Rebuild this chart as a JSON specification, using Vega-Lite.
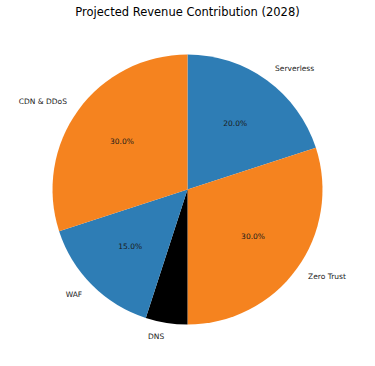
{
  "$schema": "https://vega.github.io/schema/vega-lite/v6.json",
  "width": 375,
  "height": 366,
  "autosize": {"type": "fit", "contains": "padding"},
  "padding": {"top": 6, "bottom": 10, "left": 0, "right": 0},
  "background": "white",
  "title": {"text": "Projected Revenue Contribution (2028)", "font": "DejaVu Sans", "fontSize": 11.5, "fontWeight": "normal", "color": "black", "offset": 5},
  "data": {"values": [
    {"category": "Serverless", "share": 20, "order": 1, "pct": "20.0%"},
    {"category": "Zero Trust", "share": 30, "order": 2, "pct": "30.0%"},
    {"category": "DNS", "share": 5, "order": 3, "pct": ""},
    {"category": "WAF", "share": 15, "order": 4, "pct": "15.0%"},
    {"category": "CDN & DDoS", "share": 30, "order": 5, "pct": "30.0%"}
  ]},
  "transform": [
    {"stack": "share", "groupby": [], "sort": [{"field": "order", "order": "ascending"}], "as": ["start", "end"]},
    {"calculate": "(datum.start + datum.end) / 2", "as": "mid"}
  ],
  "layer": [
    {
      "mark": {"type": "arc", "outerRadius": 135},
      "encoding": {
        "theta": {"field": "start", "type": "quantitative", "scale": {"domain": [0, 100]}},
        "theta2": {"field": "end"},
        "color": {"field": "category", "type": "nominal", "legend": null,
          "scale": {"domain": ["Serverless", "Zero Trust", "DNS", "WAF", "CDN & DDoS"],
                    "range": ["#2e7db5", "#f5831f", "#000000", "#2e7db5", "#f5831f"]}}
      }
    },
    {
      "mark": {"type": "text", "radius": 81, "font": "DejaVu Sans", "fontSize": 7.5, "color": "#1a1a1a"},
      "encoding": {
        "theta": {"field": "mid", "type": "quantitative", "scale": {"domain": [0, 100]}},
        "text": {"field": "pct"}
      }
    },
    {
      "transform": [{"filter": "datum.order <= 2"}],
      "mark": {"type": "text", "radius": 149, "align": "left", "baseline": "middle", "font": "DejaVu Sans", "fontSize": 7.5, "color": "#1a1a1a"},
      "encoding": {
        "theta": {"field": "mid", "type": "quantitative", "scale": {"domain": [0, 100]}},
        "text": {"field": "category"}
      }
    },
    {
      "transform": [{"filter": "datum.order > 2"}],
      "mark": {"type": "text", "radius": 149, "align": "right", "baseline": "middle", "font": "DejaVu Sans", "fontSize": 7.5, "color": "#1a1a1a"},
      "encoding": {
        "theta": {"field": "mid", "type": "quantitative", "scale": {"domain": [0, 100]}},
        "text": {"field": "category"}
      }
    }
  ]
}
